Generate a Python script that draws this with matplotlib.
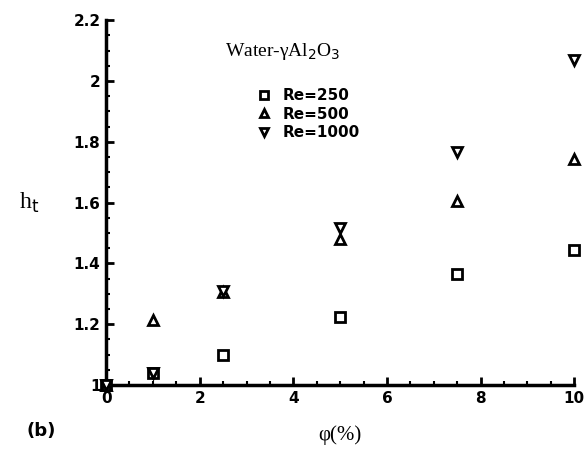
import matplotlib
matplotlib.use("Agg")
import matplotlib.pyplot as plt
from matplotlib.ticker import MultipleLocator

phi = [0, 1, 2.5, 5, 7.5, 10]
h_re250 = [1.0, 1.04, 1.10, 1.225, 1.365, 1.445]
h_re500 = [1.0, 1.215, 1.305, 1.48, 1.605, 1.745]
h_re1000 = [1.0, 1.04, 1.31, 1.515, 1.765, 2.07]
labels = ["Re=250", "Re=500", "Re=1000"]

fig = plt.figure(figsize=(5.86, 4.59), dpi=100)
ax = fig.add_axes([0.181, 0.161, 0.799, 0.795])

mk = dict(linestyle="none", markerfacecolor="white", markeredgecolor="black",
          markeredgewidth=2.0, markersize=7, clip_on=False, zorder=5)
l1, = ax.plot(phi, h_re250, marker="s", label=labels[0], **mk)
l2, = ax.plot(phi, h_re500, marker="^", label=labels[1], **mk)
l3, = ax.plot(phi, h_re1000, marker="v", label=labels[2], **mk)

ax.set_xlim(0, 10)
ax.set_ylim(1.0, 2.2)
ax.spines["top"].set_visible(False)
ax.spines["right"].set_visible(False)
for s in ("left", "bottom"):
    ax.spines[s].set_linewidth(2.5)

ax.xaxis.set_major_locator(MultipleLocator(2))
ax.xaxis.set_minor_locator(MultipleLocator(0.5))
ax.yaxis.set_major_locator(MultipleLocator(0.2))
ax.yaxis.set_minor_locator(MultipleLocator(0.05))
ax.tick_params(which="major", direction="in", length=6, width=2, labelsize=11, pad=4)
ax.tick_params(which="minor", direction="in", length=3, width=1.5)
ax.set_xticks([0, 2, 4, 6, 8, 10])
ax.set_xticklabels(["0", "2", "4", "6", "8", "10"])
ax.set_yticks([1.0, 1.2, 1.4, 1.6, 1.8, 2.0, 2.2])
ax.set_yticklabels(["1", "1.2", "1.4", "1.6", "1.8", "2", "2.2"])
for t in ax.get_xticklabels() + ax.get_yticklabels():
    t.set_fontweight("bold")
    t.set_fontfamily("DejaVu Sans")

ax.set_xlabel("φ(%)", fontfamily="Liberation Serif", fontsize=15, labelpad=14)
ax.set_ylabel("h$_\\mathrm{t}$", fontfamily="Liberation Serif", fontsize=17,
              rotation=0, labelpad=32, va="center")

ax.text(0.255, 0.915, "Water-γAl$_2$O$_3$", transform=ax.transAxes,
        fontfamily="Liberation Serif", fontsize=14, ha="left", va="center")
leg = ax.legend(handles=[l1, l2, l3], loc="upper left", bbox_to_anchor=(0.309, 0.83),
                frameon=False, handletextpad=0.7, labelspacing=0.22, borderaxespad=0,
                prop={"weight": "bold", "size": 11, "family": "DejaVu Sans"},
                handlelength=1.0, markerscale=0.85)

fig.text(0.045, 0.05, "(b)", fontsize=13, fontweight="bold", fontfamily="DejaVu Sans")

fig.savefig("out.png", dpi=100)
